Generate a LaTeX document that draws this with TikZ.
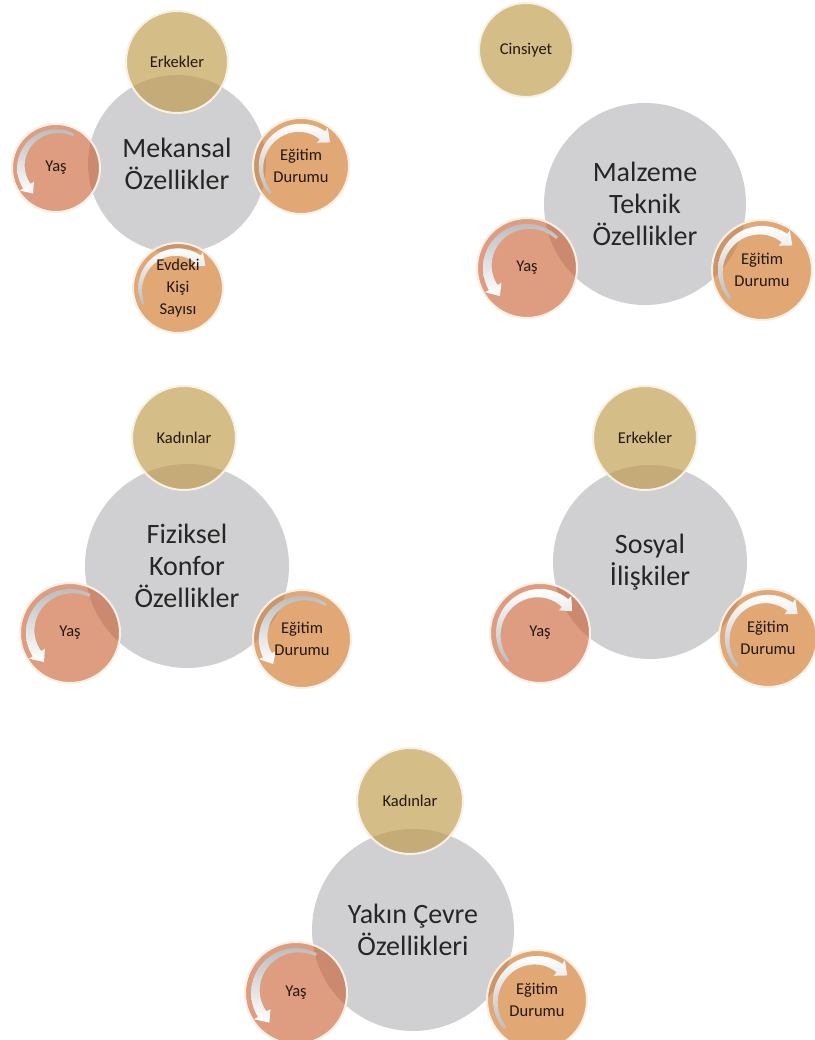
\documentclass[tikz,border=0pt]{standalone}
\usepackage{fontspec}
\setmainfont{Carlito}

\definecolor{hubgray}{HTML}{D0D0D2}
\definecolor{sand}{HTML}{D5BD87}
\definecolor{sanddark}{HTML}{C5AB77}
\definecolor{salmon}{HTML}{DE9C80}
\definecolor{salmondark}{HTML}{CB8A70}
\definecolor{peach}{HTML}{E1A775}
\definecolor{peachdark}{HTML}{CD9568}
\definecolor{rim}{HTML}{F8F0E4}
\definecolor{ink}{HTML}{22180F}
\definecolor{arrowgray}{HTML}{BDBDBD}

\pgfdeclarelayer{hubs}
\pgfdeclarelayer{discs}
\pgfsetlayers{hubs,discs,main}

\tikzset{
  hub/.style={circle, fill=hubgray, inner sep=0pt, minimum size=#1, align=center,
    text=black!85, font=\fontsize{28}{32}\selectfont},
  sat/.style={circle, inner sep=0pt, minimum size=#1, align=center, text=ink,
    font=\fontsize{16.5}{22}\selectfont},
  fadedown/.style={top color=arrowgray, bottom color=white},
  fadeup/.style={bottom color=arrowgray, top color=white},
}

% disc behind a satellite: node, radius, colour, hub, hub radius, overlap colour
\newcommand{\satdisc}[6]{%
  \fill[#3] (#1.center) circle (#2);
  \begin{scope}
    \clip (#1.center) circle (#2);
    \fill[#6] (#4.center) circle (#5);
  \end{scope}
  \draw[rim, line width=2pt] (#1.center) circle (#2);}

% curved arrow inside a satellite: node, radius, start angle, end angle
\newcommand{\bendarrow}[4]{%
  \begin{scope}[shift={(#1.center)}]
    \pgfmathsetmacro{\ro}{0.88*#2}
    \pgfmathsetmacro{\wa}{0.06*#2}
    \pgfmathsetmacro{\wb}{0.2*#2}
    \pgfmathsetmacro{\hw}{0.09*#2}
    \pgfmathsetmacro{\tip}{#4+16*sign(#4-#3)}
    \ifdim #4pt>#3pt \tikzset{fadecur/.style={fadedown}}\else\tikzset{fadecur/.style={fadeup}}\fi
    \path[fadecur] plot[domain=#3:#4, samples=40] (\x:\ro)
      -- (#4:{\ro+\hw}) -- (\tip:{\ro-\wb/2}) -- (#4:{\ro-\wb-\hw})
      -- plot[domain=#4:#3, samples=40] (\x:{\ro-\wa-(\wb-\wa)*(\x-#3)/(#4-#3)}) -- cycle;
  \end{scope}}

\begin{document}
\begin{tikzpicture}[x=1pt, y=1pt]
    \useasboundingbox (0,0) rectangle (814,1040);

    % Hubs
    \begin{pgfonlayer}{hubs}
    \node[hub=178] (g1) at (177,876) {Mekansal\\Özellikler};
    \node[hub=202] (g2) at (645,836) {Malzeme\\Teknik\\Özellikler};
    \node[hub=204] (g3) at (187,474) {Fiziksel\\Konfor\\Özellikler};
    \node[hub=194] (g4) at (650,478) {Sosyal\\İlişkiler};
    \node[hub=202] (g5) at (413,110) {Yakın Çevre\\Özellikleri};
    \end{pgfonlayer}

    % Satellites
    \node[sat=102] (erk1) at (177,978) {Erkekler};
    \node[sat=88]  (yas1) at (56,872)  {Yaş};
    \node[sat=96]  (egi1) at (301,874) {Eğitim\\Durumu};
    \node[sat=90]  (evd1) at (178,752) {Evdeki\\Kişi\\Sayısı};

    \node[sat=94]  (cin2) at (526,990) {Cinsiyet};
    \node[sat=100] (yas2) at (527,772) {Yaş};
    \node[sat=100] (egi2) at (762,770) {Eğitim\\Durumu};

    \node[sat=104] (kad3) at (184,602) {Kadınlar};
    \node[sat=100] (yas3) at (70,407)  {Yaş};
    \node[sat=98]  (egi3) at (302,401) {Eğitim\\Durumu};

    \node[sat=104] (erk4) at (645,602) {Erkekler};
    \node[sat=100] (yas4) at (540,407) {Yaş};
    \node[sat=98]  (egi4) at (768,402) {Eğitim\\Durumu};

    \node[sat=106] (kad5) at (410,239) {Kadınlar};
    \node[sat=102] (yas5) at (296,47)  {Yaş};
    \node[sat=100] (egi5) at (537,40)  {Eğitim\\Durumu};

    % Discs and arrows under the texts
    \begin{pgfonlayer}{discs}
    \satdisc{erk1}{51}{sand}{g1}{89}{sanddark}
    \satdisc{yas1}{44}{salmon}{g1}{89}{salmondark}
    \satdisc{egi1}{48}{peach}{g1}{89}{peachdark}
    \satdisc{evd1}{45}{peach}{g1}{89}{peachdark}
    \satdisc{cin2}{47}{sand}{g2}{0}{sanddark}
    \satdisc{yas2}{50}{salmon}{g2}{101}{salmondark}
    \satdisc{egi2}{50}{peach}{g2}{101}{peachdark}
    \satdisc{kad3}{52}{sand}{g3}{102}{sanddark}
    \satdisc{yas3}{50}{salmon}{g3}{102}{salmondark}
    \satdisc{egi3}{49}{peach}{g3}{102}{peachdark}
    \satdisc{erk4}{52}{sand}{g4}{97}{sanddark}
    \satdisc{yas4}{50}{salmon}{g4}{97}{salmondark}
    \satdisc{egi4}{49}{peach}{g4}{97}{peachdark}
    \satdisc{kad5}{53}{sand}{g5}{101}{sanddark}
    \satdisc{yas5}{51}{salmon}{g5}{101}{salmondark}
    \satdisc{egi5}{50}{peach}{g5}{101}{peachdark}

    \bendarrow{yas1}{44}{62}{212}
    \bendarrow{egi1}{48}{222}{55}
    \bendarrow{evd1}{45}{205}{55}
    \bendarrow{yas2}{50}{45}{210}
    \bendarrow{egi2}{50}{222}{55}
    \bendarrow{yas3}{50}{62}{212}
    \bendarrow{egi3}{49}{55}{205}
    \bendarrow{yas4}{50}{222}{50}
    \bendarrow{egi4}{49}{222}{55}
    \bendarrow{yas5}{51}{62}{212}
    \bendarrow{egi5}{50}{222}{55}
    \end{pgfonlayer}

\end{tikzpicture}
\end{document}
